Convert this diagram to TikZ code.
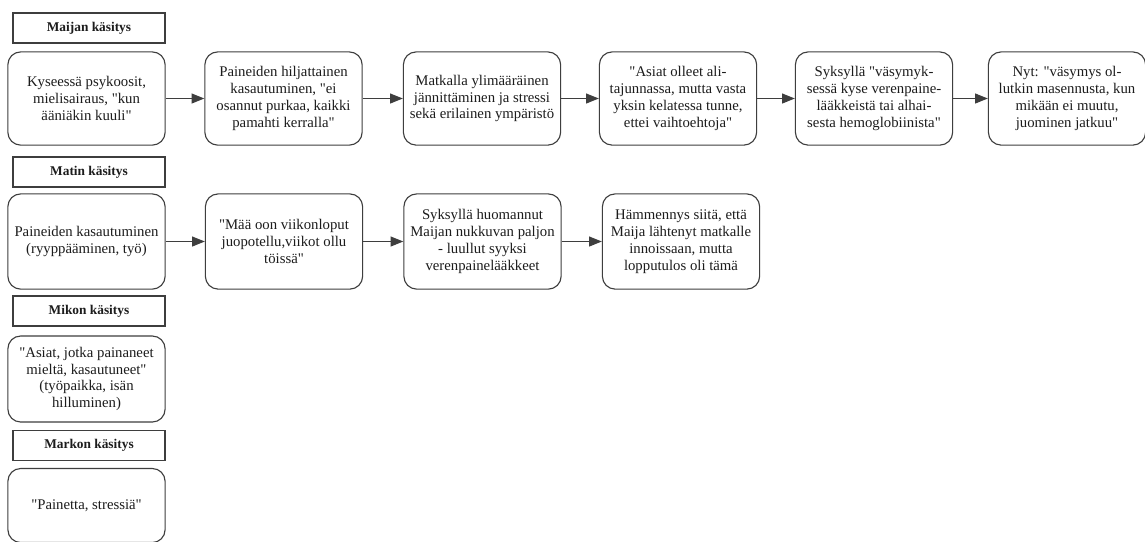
\documentclass[tikz,border=0pt]{standalone}
\usepackage{fontspec}
\setmainfont{Liberation Serif}[Ligatures=TeXOff]
\usepackage{tikz}
\usetikzlibrary{arrows.meta,positioning}
\definecolor{lineGray}{RGB}{62,62,62}
\definecolor{inkBlack}{RGB}{28,28,28}
\tikzset{
  view head/.style={draw=lineGray,line width=0.8pt,fill=white,align=center,text=inkBlack,font=\fontsize{9.5}{11}\selectfont\bfseries,minimum width=3.8cm,minimum height=0.75cm,inner sep=1pt},
  view box/.style={draw=lineGray,line width=0.8pt,fill=white,rounded corners=0.32cm,align=center,text=inkBlack,font=\fontsize{10.5}{12}\selectfont,minimum width=3.93cm,inner sep=1pt},
  view arrow/.style={-{Triangle[length=3.2mm,width=2.5mm]},line width=0.8pt,draw=lineGray}
}
\begin{document}
\begin{tikzpicture}[x=0.025cm,y=-0.025cm]
  \useasboundingbox[fill=white] (0,0) rectangle (1145,541);
  % Maija
  \node[view head] (maijaHead) at (89,28) {Maijan käsitys};
  \node[view box,minimum height=2.33cm] (maija1) at (86.5,98.5) {Kyseessä psykoosit,\\mielisairaus, "kun\\ääniäkin kuuli"};
  \node[view box,minimum height=2.33cm] (maija2) at (283.5,98.5) {Paineiden hiljattainen\\kasautuminen, "ei\\osannut purkaa, kaikki\\pamahti kerralla"};
  \node[view box,minimum height=2.33cm] (maija3) at (482,98.5) {Matkalla ylimääräinen\\jännittäminen ja stressi\\sekä erilainen ympäristö};
  \node[view box,minimum height=2.33cm] (maija4) at (678,98.5) {"Asiat olleet ali-\\tajunnassa, mutta vasta\\yksin kelatessa tunne,\\ettei vaihtoehtoja"};
  \node[view box,minimum height=2.33cm] (maija5) at (874,98.5) {Syksyllä "väsymyk-\\sessä kyse verenpaine-\\lääkkeistä tai alhai-\\sesta hemoglobiinista"};
  \node[view box,minimum height=2.33cm] (maija6) at (1067,98.5) {Nyt: "väsymys ol-\\lutkin masennusta, kun\\mikään ei muutu,\\juominen jatkuu"};
  \draw[view arrow] (maija1.east) -- (maija2.west);
  \draw[view arrow] (maija2.east) -- (maija3.west);
  \draw[view arrow] (maija3.east) -- (maija4.west);
  \draw[view arrow] (maija4.east) -- (maija5.west);
  \draw[view arrow] (maija5.east) -- (maija6.west);
  % Matti
  \node[view head] (mattiHead) at (89,172) {Matin käsitys};
  \node[view box,minimum height=2.38cm] (matti1) at (86.5,241.5) {Paineiden kasautuminen\\(ryyppääminen, työ)};
  \node[view box,minimum height=2.38cm] (matti2) at (284,241.5) {"Mää oon viikonloput\\juopotellu,viikot ollu\\töissä"};
  \node[view box,minimum height=2.38cm] (matti3) at (482.5,241.5) {Syksyllä huomannut\\Maijan nukkuvan paljon\\- luullut syyksi\\verenpainelääkkeet};
  \node[view box,minimum height=2.38cm] (matti4) at (681,241.5) {Hämmennys siitä, että\\Maija lähtenyt matkalle\\innoissaan, mutta\\lopputulos oli tämä};
  \draw[view arrow] (matti1.east) -- (matti2.west);
  \draw[view arrow] (matti2.east) -- (matti3.west);
  \draw[view arrow] (matti3.east) -- (matti4.west);
  % Mikko
  \node[view head] (mikkoHead) at (89,311) {Mikon käsitys};
  \node[view box,minimum height=2.15cm] (mikko1) at (86.5,379) {"Asiat, jotka painaneet\\mieltä, kasautuneet"\\(työpaikka, isän\\hilluminen)};
  % Marko
  \node[view head] (markoHead) at (89,445.5) {Markon käsitys};
  \node[view box,minimum height=1.85cm] (marko1) at (86.5,505.5) {"Painetta, stressiä"};
\end{tikzpicture}
\end{document}
